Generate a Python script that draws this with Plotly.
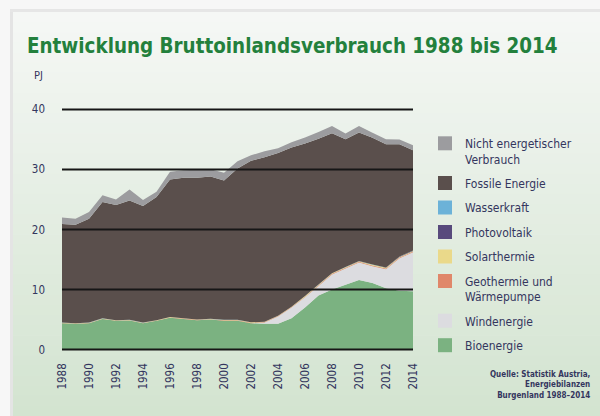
import plotly.graph_objects as go

# Bruttoinlandsverbrauch Burgenland, PJ, stacked by energy source
years = list(range(1988, 2015))

bioenergie = [4.4, 4.3, 4.4, 5.1, 4.8, 4.85, 4.4, 4.8, 5.3, 5.1, 4.9, 5.0, 4.8, 4.8,
              4.4, 4.3, 4.3, 5.2, 7.0, 9.0, 10.0, 10.8, 11.6, 11.1, 10.2, 9.8, 9.7]
windenergie = [0, 0, 0, 0, 0, 0, 0, 0, 0, 0, 0, 0, 0, 0,
               0, 0.2, 1.2, 1.8, 1.7, 1.6, 2.5, 2.7, 2.9, 2.8, 3.2, 5.4, 6.5]
geothermie = [0.05, 0.05, 0.05, 0.05, 0.05, 0.05, 0.05, 0.05, 0.06, 0.06, 0.06, 0.06, 0.08, 0.08,
              0.08, 0.08, 0.08, 0.08, 0.12, 0.12, 0.12, 0.12, 0.12, 0.12, 0.12, 0.12, 0.12]
solarthermie = [0.04, 0.04, 0.04, 0.04, 0.04, 0.04, 0.04, 0.04, 0.05, 0.05, 0.05, 0.05, 0.06, 0.06,
                0.06, 0.06, 0.06, 0.06, 0.1, 0.1, 0.1, 0.1, 0.1, 0.1, 0.1, 0.1, 0.1]
photovoltaik = [0, 0, 0, 0, 0, 0, 0, 0, 0, 0, 0, 0, 0, 0,
                0, 0, 0, 0, 0, 0, 0, 0.01, 0.02, 0.03, 0.05, 0.07, 0.08]
wasserkraft = [0.01] * 27
fossile = [16.4, 16.4, 17.3, 19.4, 19.2, 19.9, 19.4, 20.5, 22.9, 23.4, 23.6, 23.7, 23.2, 25.2,
           26.9, 27.4, 27.1, 26.5, 25.4, 24.3, 23.3, 21.3, 21.4, 21.1, 20.5, 18.7, 16.7]
nicht_energetisch = [1.1, 1.0, 1.1, 1.1, 0.9, 1.8, 1.0, 0.9, 1.3, 1.25, 1.35, 1.2, 1.3, 1.2,
                     0.9, 1.0, 0.8, 0.9, 1.0, 1.1, 1.2, 0.95, 1.1, 0.85, 0.85, 0.8, 0.8]

x_ticks = list(range(1988, 2015, 2))
y_ticks = [0, 10, 20, 30, 40]

# stack order bottom -> top
series = [
    ("Bioenergie", bioenergie, "#7bb281"),
    ("Windenergie", windenergie, "#dcdce0"),
    ("Geothermie und<br>Wärmepumpe", geothermie, "#e0876a"),
    ("Solarthermie", solarthermie, "#ead98a"),
    ("Photovoltaik", photovoltaik, "#584a7c"),
    ("Wasserkraft", wasserkraft, "#6cb2d8"),
    ("Fossile Energie", fossile, "#5a4f4c"),
    ("Nicht energetischer<br>Verbrauch", nicht_energetisch, "#9c9c9f"),
]

W, H = 600, 416
L, R, T, B = 62, 187, 107, 64
PW, PH = W - L - R, H - T - B


def px_x(v):
    return (v - L) / PW


def px_y(v):
    return (H - B - v) / PH


fig = go.Figure()

for name, vals, color in series:
    fig.add_trace(go.Scatter(
        x=years, y=vals, mode="none", stackgroup="one",
        fillcolor=color, line=dict(width=0), name=name,
        showlegend=False, hoverinfo="skip",
    ))

# square swatches for the legend, top of the stack first;
# one group each so the group gap spaces the rows
for i, (name, vals, color) in enumerate(reversed(series)):
    fig.add_trace(go.Scatter(
        x=[None], y=[None], mode="markers", name=name, legendgroup="g%d" % i,
        marker=dict(symbol="square", size=14, color=color),
    ))

shapes = []
# card background: soft vertical gradient from near white to pale green
top_c = (245, 247, 245)
bot_c = (211, 228, 208)
card_top, card_left = 12, 13
nb = 40
for i in range(nb):
    y0 = card_top + (H - card_top) * i / nb
    y1 = card_top + (H - card_top) * (i + 1) / nb + 0.6
    f = i / (nb - 1)
    c = tuple(round(top_c[k] + (bot_c[k] - top_c[k]) * f) for k in range(3))
    shapes.append(dict(
        type="rect", xref="paper", yref="paper", layer="below",
        x0=px_x(card_left), x1=px_x(W + 2), y0=px_y(y1), y1=px_y(y0),
        fillcolor="rgb(%d,%d,%d)" % c, line=dict(width=0),
    ))
# thin shadow along the card's left and top edges
shapes.append(dict(type="rect", xref="paper", yref="paper", layer="below",
                   x0=px_x(card_left - 3), x1=px_x(card_left), y0=px_y(H + 2), y1=px_y(card_top - 3),
                   fillcolor="rgb(228,228,228)", line=dict(width=0)))
shapes.append(dict(type="rect", xref="paper", yref="paper", layer="below",
                   x0=px_x(card_left - 3), x1=px_x(W + 2), y0=px_y(card_top), y1=px_y(card_top - 3),
                   fillcolor="rgb(230,230,230)", line=dict(width=0)))

# horizontal rules drawn over the areas
for v in y_ticks:
    shapes.append(dict(type="line", xref="x", yref="y", layer="above",
                       x0=years[0], x1=years[-1], y0=v, y1=v,
                       line=dict(color="#161616", width=2)))

navy = "#34365e"
cond = "DejaVu Sans Condensed"

fig.update_layout(
    width=W, height=H,
    margin=dict(l=L, r=R, t=T, b=B, pad=0),
    paper_bgcolor="#f7f7f7",
    plot_bgcolor="rgba(0,0,0,0)",
    shapes=shapes,
    showlegend=True,
    legend=dict(
        traceorder="grouped",
        x=px_x(425), xanchor="left", y=px_y(129), yanchor="top",
        bgcolor="rgba(0,0,0,0)", valign="top",
        font=dict(family=cond, size=12, color=navy),
        itemsizing="trace", tracegroupgap=5.5,
    ),
    title=dict(
        text="<b>Entwicklung Bruttoinlandsverbrauch 1988 bis 2014</b>",
        font=dict(family=cond, size=20.4, color="#23803c"),
        x=27 / W, xanchor="left", xref="container",
        y=1 - 46 / H, yanchor="middle", yref="container",
    ),
    xaxis=dict(
        range=[years[0], years[-1]], tickvals=x_ticks, ticktext=[str(v) for v in x_ticks],
        tickangle=-90, showgrid=False, zeroline=False, showline=False,
        ticks="", ticklabelstandoff=8,
        tickfont=dict(family=cond, size=11.5, color=navy),
    ),
    yaxis=dict(
        range=[-0.4, 40.4], tickvals=y_ticks, showgrid=False, zeroline=False,
        showline=False, ticks="", ticklabelstandoff=16,
        tickfont=dict(family=cond, size=11.5, color=navy),
    ),
    annotations=[
        dict(text="PJ", xref="paper", yref="paper", x=px_x(32), y=px_y(75),
             xanchor="left", yanchor="middle", showarrow=False,
             font=dict(family=cond, size=11, color=navy)),
        dict(text="<b>Quelle: Statistik Austria,<br>Energiebilanzen<br>Burgenland 1988–2014</b>",
             xref="paper", yref="paper", x=px_x(592), y=px_y(368),
             xanchor="right", yanchor="top", align="right", showarrow=False,
             font=dict(family=cond, size=8, color=navy)),
    ],
)

fig.write_html("out.html")
